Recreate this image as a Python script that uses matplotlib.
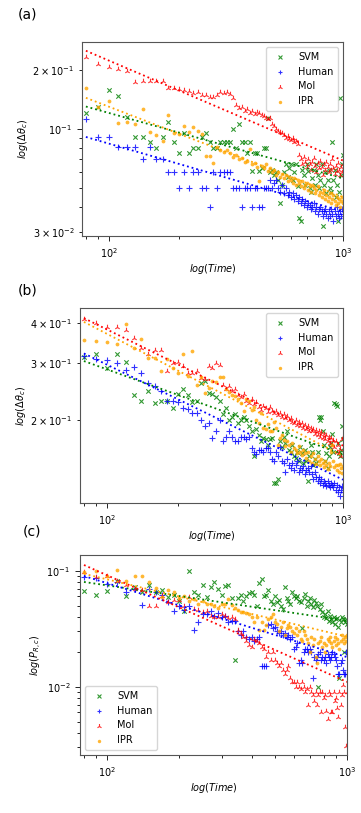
import numpy as np
import matplotlib
matplotlib.use("Agg")
import matplotlib.pyplot as plt
from matplotlib.ticker import FuncFormatter, NullFormatter

# ---------------- data ----------------
TIME = [80, 90, 100, 110, 120, 130, 140, 150, 160, 170, 180, 190, 200, 210, 220, 230, 240, 250,
        260, 270, 280, 290, 300, 310, 320, 330, 340, 350, 360, 370, 380, 390, 400, 410, 420, 430,
        440, 450, 460, 470, 480, 490, 500, 510, 520, 530, 540, 550, 560, 570, 580, 590, 600, 610,
        620, 630, 640, 650, 660, 670, 680, 690, 700, 710, 720, 730, 740, 750, 760, 770, 780, 790,
        800, 810, 820, 830, 840, 850, 860, 870, 880, 890, 900, 910, 920, 930, 940, 950, 960, 970,
        980, 990, 1000]

LABELS = ["SVM", "Human", "MoI", "IPR"]

# panel (a): log(Delta theta_c)
SVM_A = [.121, .130, .157, .147, .115, .091, .091, .086, .080, .091, .109, .086, .075, .095, .075, .080,
         .080, .091, .095, .086, .080, .080, .086, .086, .086, .086, .100, .080, .106, .086, .086, .075,
         .086, .061, .075, .075, .061, .063, .080, .080, .114, .060, .062, .058, .060, .055, .042, .052,
         .060, .066, .057, .063, .066, .055, .060, .066, .051, .035, .034, .062, .058, .052, .066, .061,
         .050, .048, .056, .062, .052, .066, .058, .050, .055, .066, .032, .052, .060, .047, .055, .062,
         .050, .048, .086, .055, .062, .045, .052, .034, .048, .144, .058, .066, .074]
HUMAN_A = [.112, .091, .091, .081, .081, .081, .070, .081, .070, .070, .060, .060, .050, .060, .050, .060,
           .060, .050, .050, .040, .060, .050, .060, .060, .060, .060, .050, .050, .050, .040, .050, .050,
           .050, .040, .050, .050, .040, .040, .050, .050, .050, .055, .050, .053, .055, .050, .048, .052,
           .047, .050, .046, .048, .045, .047, .044, .046, .043, .045, .042, .044, .041, .043, .040, .042,
           .041, .039, .040, .042, .038, .040, .037, .039, .040, .038, .036, .038, .039, .037, .035, .038,
           .036, .039, .037, .034, .038, .036, .040, .037, .035, .038, .036, .039, .037]
MOI_A = [.232, .215, .206, .203, .197, .173, .176, .176, .175, .175, .162, .162, .160, .157, .156, .152,
         .154, .148, .148, .145, .146, .149, .155, .153, .155, .150, .143, .132, .128, .130, .124, .126,
         .121, .124, .119, .122, .120, .118, .116, .113, .112, .114, .106, .104, .100, .098, .097, .095,
         .093, .090, .092, .089, .088, .090, .086, .087, .084, .074, .070, .066, .072, .068, .064, .070,
         .066, .062, .068, .071, .065, .060, .067, .063, .069, .064, .058, .066, .062, .068, .064, .060,
         .066, .062, .070, .063, .059, .065, .061, .067, .062, .058, .064, .060, .066]
IPR_A = [.161, .130, .138, .107, .109, .106, .127, .097, .093, .087, .118, .095, .094, .103, .096, .102,
         .098, .094, .073, .073, .067, .081, .078, .076, .078, .075, .072, .074, .070, .071, .068, .069,
         .079, .066, .067, .064, .054, .065, .063, .066, .061, .063, .060, .062, .058, .060, .057, .059,
         .056, .058, .054, .057, .055, .053, .056, .052, .055, .053, .051, .054, .050, .052, .053, .049,
         .051, .048, .052, .050, .047, .049, .051, .046, .048, .045, .047, .049, .044, .046, .043, .045,
         .047, .042, .044, .046, .043, .041, .045, .042, .044, .040, .043, .045, .042]
# power-law fit values (at first and last time)
FIT_A_START = [0.130, 0.091, 0.250, 0.144]
FIT_A_END = [0.056, 0.038, 0.069, 0.045]

# panel (b): log(Delta theta_c)
SVM_B = [.315, .320, .290, .320, .302, .240, .230, .247, .227, .230, .229, .219, .242, .250, .240, .228,
         .230, .260, .264, .243, .242, .236, .229, .209, .218, .200, .205, .209, .196, .200, .205, .200,
         .192, .185, .155, .188, .180, .172, .176, .175, .168, .175, .176, .128, .128, .132, .172, .165,
         .178, .170, .185, .162, .160, .168, .155, .153, .160, .150, .165, .158, .148, .162, .150, .130,
         .155, .168, .160, .145, .152, .148, .160, .205, .200, .205, .185, .168, .150, .158, .142, .155,
         .165, .170, .182, .160, .226, .224, .222, .170, .158, .155, .162, .192, .175]
HUMAN_B = [.317, .310, .307, .300, .287, .293, .280, .261, .255, .247, .230, .229, .228, .218, .217, .210,
           .210, .200, .192, .196, .176, .186, .200, .172, .178, .185, .178, .172, .172, .178, .178, .175,
           .178, .164, .160, .157, .162, .162, .160, .164, .164, .160, .152, .150, .160, .155, .165, .150,
           .148, .138, .152, .145, .142, .148, .140, .146, .150, .138, .142, .140, .144, .136, .140, .142,
           .138, .144, .136, .132, .138, .134, .130, .134, .128, .132, .126, .130, .128, .125, .130, .126,
           .124, .128, .126, .124, .128, .122, .126, .120, .124, .117, .122, .125, .120]
MOI_B = [.412, .400, .390, .388, .380, .360, .335, .320, .330, .330, .285, .300, .302, .295, .280, .280,
         .284, .270, .268, .295, .290, .300, .296, .258, .250, .255, .246, .250, .240, .236, .242, .230,
         .226, .232, .224, .228, .220, .215, .222, .218, .212, .220, .214, .210, .213, .207, .211, .205,
         .209, .204, .206, .200, .203, .198, .196, .200, .194, .197, .192, .196, .190, .194, .188, .192,
         .186, .190, .185, .188, .182, .187, .180, .185, .178, .184, .176, .182, .175, .180, .172, .178,
         .170, .176, .168, .174, .165, .172, .160, .168, .158, .163, .155, .175, .178]
IPR_B = [.355, .352, .350, .345, .397, .335, .357, .312, .312, .285, .310, .290, .280, .320, .275, .327,
         .258, .273, .243, .252, .264, .262, .273, .273, .250, .245, .240, .238, .232, .226, .213, .232,
         .230, .215, .220, .200, .196, .210, .190, .188, .195, .186, .185, .198, .190, .168, .176, .180,
         .174, .166, .172, .168, .160, .170, .164, .162, .158, .166, .160, .156, .162, .158, .153, .160,
         .150, .155, .148, .158, .152, .147, .155, .150, .145, .152, .148, .143, .150, .146, .141, .148,
         .144, .160, .168, .150, .143, .146, .140, .145, .138, .147, .142, .137, .144]
FIT_B_START = [0.305, 0.322, 0.414, 0.403]
FIT_B_END = [0.157, 0.131, 0.167, 0.155]

# panel (c): log(P_R,c)
SVM_C = [.067, .062, .067, .081, .061, .072, .066, .075, .066, .068, .059, .062, .055, .045, .100, .066,
         .062, .075, .059, .072, .080, .070, .062, .074, .075, .058, .017, .058, .062, .055, .060, .064,
         .066, .062, .050, .078, .085, .060, .062, .068, .055, .052, .060, .054, .056, .050, .047, .072,
         .058, .055, .052, .065, .060, .058, .061, .055, .054, .032, .058, .063, .050, .055, .058, .052,
         .049, .056, .053, .050, .010, .047, .052, .044, .040, .042, .039, .045, .037, .041, .038, .036,
         .040, .035, .038, .039, .033, .012, .036, .040, .038, .020, .036, .038, .035]
HUMAN_C = [.088, .086, .077, .080, .066, .070, .051, .070, .066, .062, .054, .045, .050, .046, .050, .031,
           .036, .042, .042, .045, .041, .043, .040, .041, .036, .037, .037, .030, .028, .030, .027, .026,
           .027, .025, .026, .027, .015, .015, .015, .034, .035, .032, .033, .030, .029, .030, .028, .029,
           .027, .028, .026, .027, .021, .022, .024, .016, .017, .016, .020, .021, .021, .020, .021, .020,
           .012, .018, .017, .018, .019, .020, .017, .018, .017, .018, .016, .019, .018, .017, .018, .020,
           .019, .018, .017, .015, .013, .013, .016, .017, .014, .013, .013, .020, .013]
MOI_C = [.097, .088, .090, .082, .075, .070, .068, .050, .050, .060, .054, .056, .056, .050, .059, .047,
         .046, .044, .045, .041, .040, .040, .042, .041, .039, .040, .038, .031, .029, .027, .025, .023,
         .022, .026, .025, .024, .022, .021, .018, .020, .017, .020, .017, .016, .015, .016, .014, .013,
         .014, .015, .012, .011, .011, .010, .011, .010, .0095, .011, .010, .009, .0095, .0070, .010, .009,
         .0085, .0075, .009, .0070, .0085, .009, .0060, .0090, .0080, .0085, .0062, .0053, .009, .0085,
         .006, .0060, .0090, .0075, .0080, .0065, .0055, .0090, .0070, .0085, .0103, .0090, .0045, .0031,
         .0090]
IPR_C = [.098, .100, .090, .101, .082, .090, .090, .080, .071, .059, .068, .066, .058, .060, .055, .057,
         .052, .055, .052, .052, .050, .048, .052, .052, .057, .051, .048, .046, .044, .044, .043, .042,
         .040, .036, .040, .031, .036, .031, .034, .038, .040, .042, .036, .035, .030, .033, .036, .028,
         .032, .034, .033, .030, .029, .032, .028, .030, .026, .025, .030, .028, .026, .024, .020, .027,
         .023, .026, .018, .016, .024, .025, .027, .022, .024, .020, .023, .026, .025, .027, .024, .022,
         .025, .027, .023, .026, .024, .021, .025, .028, .026, .024, .027, .025, .028]
FIT_C_START = [0.080, 0.090, 0.112, 0.094]
FIT_C_END = [0.037, 0.018, 0.011, 0.027]

PANELS = [
    ("(a)", [SVM_A, HUMAN_A, MOI_A, IPR_A], FIT_A_START, FIT_A_END, r"$log(\Delta\theta_c)$"),
    ("(b)", [SVM_B, HUMAN_B, MOI_B, IPR_B], FIT_B_START, FIT_B_END, r"$log(\Delta\theta_c)$"),
    ("(c)", [SVM_C, HUMAN_C, MOI_C, IPR_C], FIT_C_START, FIT_C_END, r"$log(P_{R,c})$"),
]

# ---------------- style ----------------
W, H = 361, 813
COLORS = ["green", "blue", "red", "orange"]
MARKERS = ["x", "+", "2", "."]
SIZES = [10, 14, 16, 30]
LWS = [0.8, 0.8, 0.8, 0.0]
# axes boxes in pixels: left, top, right, bottom
BOXES = [(82, 42, 343, 236), (80, 308, 343, 503), (80, 555, 347, 755)]
YLIMS = [(0.0285, 0.277), (0.111, 0.445), (0.00258, 0.1366)]
MINOR_LABELS = [[0.2, 0.03], [0.2, 0.3, 0.4], []]
PANEL_TXT = [(28, 15), (28, 290), (32, 531)]
LEG_LOC = ["upper right", "upper right", "lower left"]

fig = plt.figure(figsize=(W / 100, H / 100), dpi=100)


def sci(v):
    e = int(np.floor(np.log10(v) + 1e-9))
    c = int(round(v / 10 ** e))
    return r"$\mathdefault{%d\times10^{%d}}$" % (c, e)


for k, (tag, series, fs, fe, ylab) in enumerate(PANELS):
    l, t, r, b = BOXES[k]
    ax = fig.add_axes([l / W, 1 - b / H, (r - l) / W, (b - t) / H])
    tt = np.array(TIME, dtype=float)
    for vals, col, mk, sz, lw, lab in zip(series, COLORS, MARKERS, SIZES, LWS, LABELS):
        ax.scatter(tt, np.array(vals, dtype=float), marker=mk, color=col, s=sz, linewidths=lw,
                   alpha=0.8, label=lab, zorder=2)
    for col, v0, v1 in zip(COLORS, fs, fe):
        ax.plot([TIME[0], TIME[-1]], [v0, v1], ':', color=col, lw=1.3, zorder=3)
    ax.set_xscale("log")
    ax.set_yscale("log")
    ax.set_xlim(77, 1000)
    ax.set_ylim(*YLIMS[k])
    keep = MINOR_LABELS[k]
    ax.yaxis.set_minor_formatter(FuncFormatter(
        lambda v, p, keep=keep: sci(v) if any(abs(v - q) < 1e-6 for q in keep) else ""))
    ax.xaxis.set_minor_formatter(NullFormatter())
    ax.tick_params(which="both", labelsize=7, width=0.6)
    ax.tick_params(which="major", length=3.5)
    ax.tick_params(which="minor", length=2)
    for sp in ax.spines.values():
        sp.set_linewidth(0.8)
        sp.set_color("#555555")
    ax.set_xlabel(r"$log(Time)$", fontsize=7, labelpad=2)
    ax.set_ylabel(ylab, fontsize=7, labelpad=2)
    ax.legend(loc=LEG_LOC[k], fontsize=7, scatterpoints=1, handletextpad=0.8,
              borderpad=0.5, labelspacing=0.5, markerscale=0.9)
    px, py = PANEL_TXT[k]
    fig.text(px / W, 1 - py / H, tag, fontsize=10, ha="center", va="center")

fig.savefig("out.png", dpi=100)
